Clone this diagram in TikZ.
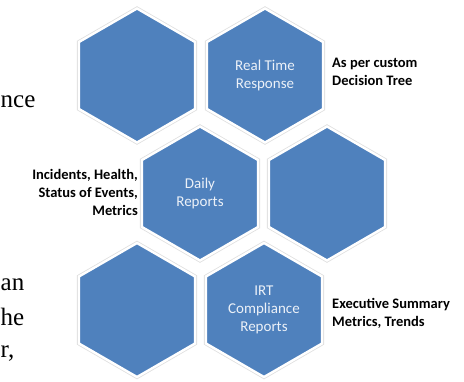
\documentclass[tikz,border=0pt]{standalone}
\usepackage{fontspec}
\setmainfont{Carlito}
\newfontfamily\pageserif{Liberation Serif}
\usetikzlibrary{shapes.geometric,positioning}
\definecolor{hexblue}{RGB}{79,129,189}
\definecolor{hextext}{RGB}{236,241,248}

\begin{document}
\begin{tikzpicture}[
	x = 1pt, y = 1pt, % one unit per pixel
	on grid, % place centre to centre
	hexa/.style = {regular polygon, regular polygon sides=6, shape border rotate=30,
		minimum size=134pt, inner sep=0pt, fill=hexblue, draw=white, line width=2.4pt,
		preaction={draw=gray!25, line width=4pt},
		text=hextext, align=center, font=\fontsize{15}{18}\selectfont}, % cell style
	note/.style = {inner sep=0pt, font=\fontsize{14.5}{18}\selectfont\bfseries},
	page/.style = {inner sep=0pt, font=\pageserif\fontsize{25}{33}\selectfont}
	]
	
	\useasboundingbox (0,0) rectangle (464,381);
	
	% hexagon cluster
	\node[hexa] (cellA) at (137,305.5) {};
	\node[hexa] (realtime) [right=128pt of cellA] {Real Time\\Response};
	\node[hexa] (daily) [below right=118pt and 63pt of cellA] {Daily\\Reports};
	\node[hexa] (cellB) [right=127pt of daily] {};
	\node[hexa] (cellC) [below left=116.5pt and 63pt of daily] {};
	\node[hexa] (irt) [right=127pt of cellC] {IRT\\Compliance\\Reports};
	
	% side notes
	\node[note, align=left, anchor=west] (custom) at (332,309) {As per custom\\Decision Tree};
	\node[note, align=right, anchor=east] (incidents) at (138,188.5) {Incidents, Health,\\Status of Events,\\Metrics};
	\node[note, align=left, anchor=west] (summary) at (332,68) {Executive Summary\\Metrics, Trends};
	
	% cut page text
	\node[page, anchor=base west] (fragA) at (0.5,273) {nce};
	\node[page, anchor=base west] (fragB) at (0.5,90) {an};
	\node[page, anchor=base west] (fragC) at (0.5,56) {he};
	\node[page, anchor=base west] (fragD) at (0.5,24) {r,};
\end{tikzpicture}
\end{document}
